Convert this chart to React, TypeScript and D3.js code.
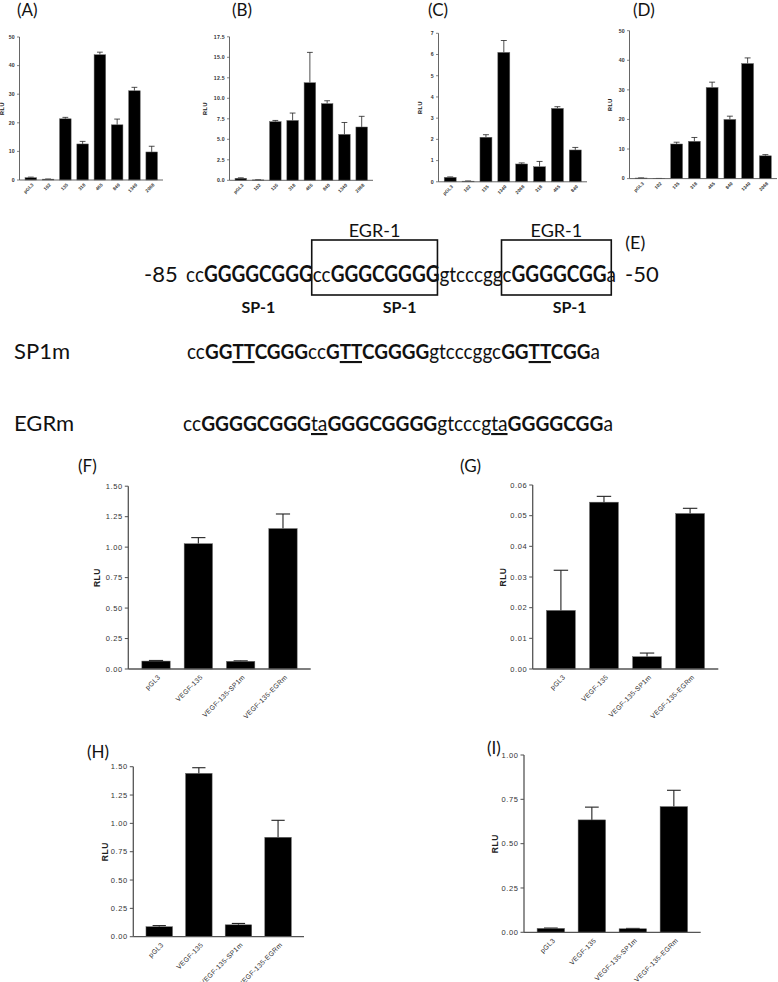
import React, { useLayoutEffect, useRef, useState } from 'react';
import * as d3 from 'd3';

// ---- data ----
const promoterCats = ['pGL3', '102', '135', '318', '465', '840', '1340', '2068'];
const promoterCatsC = ['pGL3', '102', '135', '1340', '2068', '318', '465', '840'];
const mutantCats = ['pGL3', 'VEGF-135', 'VEGF-135-SP1m', 'VEGF-135-EGRm'];

const aValues = [0.8, 0.3, 21.4, 12.6, 43.8, 19.3, 31.2, 9.8];
const aErrors = [0.2, 0.05, 0.5, 0.9, 0.9, 2.0, 1.2, 2.0];
const bValues = [0.25, 0.05, 7.15, 7.3, 11.9, 9.35, 5.6, 6.5];
const bErrors = [0.05, 0.02, 0.15, 0.9, 3.7, 0.35, 1.45, 1.3];
const cValues = [0.21, 0.03, 2.1, 6.1, 0.84, 0.71, 3.46, 1.5];
const cErrors = [0.02, 0.01, 0.12, 0.56, 0.05, 0.25, 0.08, 0.12];
const dValues = [0.2, 0.05, 11.7, 12.6, 30.8, 20.0, 38.9, 7.7];
const dErrors = [0.05, 0.01, 0.6, 1.3, 1.8, 1.1, 1.9, 0.4];

const fValues = [0.065, 1.028, 0.063, 1.152];
const fErrors = [0.005, 0.05, 0.004, 0.12];
const gValues = [0.0191, 0.0544, 0.004, 0.0507];
const gErrors = [0.0131, 0.0019, 0.0012, 0.0017];
const hValues = [0.088, 1.441, 0.105, 0.877];
const hErrors = [0.01, 0.05, 0.012, 0.15];
const iValues = [0.022, 0.634, 0.02, 0.709];
const iErrors = [0.002, 0.072, 0.002, 0.092];

const ticks50 = [0, 10, 20, 30, 40, 50];
const ticks175 = [0, 2.5, 5, 7.5, 10, 12.5, 15, 17.5];
const ticks7 = [0, 1, 2, 3, 4, 5, 6, 7];
const ticks150 = [0, 0.25, 0.5, 0.75, 1.0, 1.25, 1.5];
const ticks006 = [0, 0.01, 0.02, 0.03, 0.04, 0.05, 0.06];
const ticks100 = [0, 0.25, 0.5, 0.75, 1.0];

type Seg = { t: string; b?: boolean; u?: boolean };
const wtSeq: Seg[] = [
  { t: 'cc' }, { t: 'GGGGCGGG', b: true }, { t: 'cc' }, { t: 'GGGCGGGG', b: true },
  { t: 'gtcccggc' }, { t: 'GGGGCGG', b: true }, { t: 'a' },
];
const sp1mSeq: Seg[] = [
  { t: 'cc' }, { t: 'GG', b: true }, { t: 'TT', b: true, u: true }, { t: 'CGGG', b: true },
  { t: 'cc' }, { t: 'G', b: true }, { t: 'TT', b: true, u: true }, { t: 'CGGGG', b: true },
  { t: 'gtcccggc' }, { t: 'GG', b: true }, { t: 'TT', b: true, u: true }, { t: 'CGG', b: true }, { t: 'a' },
];
const egrmSeq: Seg[] = [
  { t: 'cc' }, { t: 'GGGGCGGG', b: true }, { t: 'ta', u: true }, { t: 'GGGCGGGG', b: true },
  { t: 'gtcccg' }, { t: 'ta', u: true }, { t: 'GGGGCGG', b: true }, { t: 'a' },
];

const chartFont = '"Liberation Sans", Arial, sans-serif';
const textFont = 'Lato, "Open Sans", sans-serif';

type Panel = {
  x0: number; x1: number; y0: number; y1: number; max: number;
  ticks: number[]; fmt: (v: number) => string; cats: string[];
  vals: number[]; errs: number[]; big: boolean; rluX: number;
};

function BarPanel({ p }: { p: Panel }) {
  const x = d3.scaleBand().domain(p.cats).range([p.x0, p.x1]).paddingInner(0.33).paddingOuter(0.32);
  const y = d3.scaleLinear().domain([0, p.max]).range([p.y0, p.y1]);
  const bw = x.bandwidth();
  const tickLen = p.big ? 3.5 : 2.5;
  const tickFont = p.big ? 7.5 : 5.2;
  const catFont = p.big ? 6.8 : 4.6;
  const axisCol = '#555';
  const sw = p.big ? 1.3 : 0.9;
  return (
    <g>
      {p.vals.map((v, i) => {
        const c = p.cats[i];
        const bx = x(c) as number;
        const cx = bx + bw / 2;
        const top = y(v + p.errs[i]);
        const cap = bw * 0.5;
        return (
          <g key={c}>
            <line x1={cx} x2={cx} y1={y(v)} y2={top} stroke="#222" strokeWidth={p.big ? 1.1 : 0.8} />
            <line x1={cx - cap / 2} x2={cx + cap / 2} y1={top} y2={top} stroke="#222" strokeWidth={p.big ? 1.1 : 0.8} />
            <rect x={bx} y={y(v)} width={bw} height={p.y0 - y(v)} fill="#000" stroke="#666" strokeWidth={0.5} />
          </g>
        );
      })}
      <line x1={p.x0} x2={p.x0} y1={p.y0} y2={p.y1} stroke={axisCol} strokeWidth={sw} />
      <line x1={p.x0} x2={p.x1} y1={p.y0} y2={p.y0} stroke={axisCol} strokeWidth={sw} />
      {p.ticks.map((t) => (
        <g key={t} transform={`translate(${p.x0}, ${y(t)})`}>
          <line x2={-tickLen} stroke={axisCol} strokeWidth={sw * 0.8} />
          <text x={-tickLen - 2} dy="0.35em" textAnchor="end" fontSize={tickFont}
            fontFamily={chartFont} fill="#333" fontWeight={p.big ? 400 : 700} letterSpacing={p.big ? 0.6 : 0.3}>
            {p.fmt(t)}
          </text>
        </g>
      ))}
      {p.cats.map((c) => (
        <text key={c} transform={`translate(${(x(c) as number) + bw / 2 + (p.big ? 3 : 2)}, ${p.y0 + (p.big ? 7 : 4)}) rotate(-45)`}
          textAnchor="end" dy="0.35em" fontSize={catFont} fontFamily={chartFont} fill="#333"
          fontWeight={p.big ? 400 : 700} letterSpacing={p.big ? 0.3 : 0.1}>
          {c}
        </text>
      ))}
      <text transform={`translate(${p.rluX}, ${(p.y0 + p.y1) / 2}) rotate(-90)`} textAnchor="middle" dy="0.35em"
        fontSize={p.big ? 8.5 : 5.5} fontWeight={700} fontFamily={chartFont} fill="#222" letterSpacing={0.5}>
        RLU
      </text>
    </g>
  );
}

function SeqText({ segs, x, y, size, len, innerRef }: { segs: Seg[]; x: number; y: number; size: number; len: number; innerRef?: any }) {
  return (
    <text ref={innerRef} x={x} y={y} fontSize={size} fontFamily={textFont} fill="#111"
      textLength={len} lengthAdjust="spacingAndGlyphs">
      {segs.map((s, i) => (
        <tspan key={i} fontWeight={s.b ? 700 : 400} style={s.u ? { textDecoration: 'underline' } : undefined}>{s.t}</tspan>
      ))}
    </text>
  );
}

type Geo = { b1l: number; b1r: number; b2l: number; b2r: number; s1: number; end: number };

function Sequences() {
  const ref = useRef<SVGTextElement>(null);
  const [geo, setGeo] = useState<null | Geo>(null);
  useLayoutEffect(() => {
    const el = ref.current;
    if (!el) return;
    const sx = (i: number) => el.getStartPositionOfChar(i).x;
    const ex = (i: number) => el.getEndPositionOfChar(i).x;
    setGeo({
      b1l: sx(10) - 1, b1r: ex(19) - 2, b2l: sx(27) - 1, b2r: (sx(35) + ex(35)) / 2,
      s1: (sx(2) + ex(9)) / 2, end: ex(35),
    });
  }, []);
  const boxTop = 240;
  const boxBot = 295;
  return (
    <g fontFamily={textFont} fill="#111">
      <text x={144} y={282} fontSize={22}>-85</text>
      <SeqText innerRef={ref} segs={wtSeq} x={186} y={282} size={22} len={430} />
      {geo && (
        <g>
          <text x={geo.end + 9} y={282} fontSize={22}>-50</text>
          <rect x={geo.b1l} y={boxTop} width={geo.b1r - geo.b1l} height={boxBot - boxTop} fill="none" stroke="#111" strokeWidth={1.6} />
          <rect x={geo.b2l} y={boxTop} width={geo.b2r - geo.b2l} height={boxBot - boxTop} fill="none" stroke="#111" strokeWidth={1.6} />
          <text x={(geo.b1l + geo.b1r) / 2} y={237} fontSize={18} textAnchor="middle">EGR-1</text>
          <text x={(geo.b2l + geo.b2r) / 2} y={237} fontSize={18} textAnchor="middle">EGR-1</text>
          <text x={geo.b2r + 14} y={249} fontSize={18}>(E)</text>
          <text x={geo.s1} y={313} fontSize={16} fontWeight={700} textAnchor="middle">SP-1</text>
          <text x={geo.b1l + 0.7 * (geo.b1r - geo.b1l)} y={313} fontSize={16} fontWeight={700} textAnchor="middle">SP-1</text>
          <text x={geo.b2l + 0.62 * (geo.b2r - geo.b2l)} y={313} fontSize={16} fontWeight={700} textAnchor="middle">SP-1</text>
        </g>
      )}
      <text x={14} y={359} fontSize={22}>SP1m</text>
      <SeqText segs={sp1mSeq} x={187} y={359} size={21} len={413} />
      <text x={14} y={431} fontSize={22}>EGRm</text>
      <SeqText segs={egrmSeq} x={183} y={431} size={21} len={430} />
    </g>
  );
}

const fmt0 = (v: number) => d3.format('d')(v);
const fmt1 = (v: number) => v.toFixed(1);
const fmt2 = (v: number) => v.toFixed(2);

const panels: Panel[] = [
  { x0: 19.5, x1: 163, y0: 180, y1: 37, max: 50, ticks: ticks50, fmt: fmt0, cats: promoterCats, vals: aValues, errs: aErrors, big: false, rluX: 2.5 },
  { x0: 229.5, x1: 373, y0: 180.3, y1: 36.8, max: 17.5, ticks: ticks175, fmt: fmt1, cats: promoterCats, vals: bValues, errs: bErrors, big: false, rluX: 205.5 },
  { x0: 438.5, x1: 587, y0: 181.8, y1: 33.3, max: 7, ticks: ticks7, fmt: fmt0, cats: promoterCatsC, vals: cValues, errs: cErrors, big: false, rluX: 420.5 },
  { x0: 629.5, x1: 777, y0: 178.6, y1: 30.7, max: 50, ticks: ticks50, fmt: fmt0, cats: promoterCats, vals: dValues, errs: dErrors, big: false, rluX: 610.5 },
  { x0: 128.3, x1: 310.7, y0: 669, y1: 486.2, max: 1.5, ticks: ticks150, fmt: fmt2, cats: mutantCats, vals: fValues, errs: fErrors, big: true, rluX: 97.5 },
  { x0: 532.7, x1: 718.3, y0: 669, y1: 485, max: 0.06, ticks: ticks006, fmt: fmt2, cats: mutantCats, vals: gValues, errs: gErrors, big: true, rluX: 503.5 },
  { x0: 133.3, x1: 304, y0: 936.7, y1: 766.7, max: 1.5, ticks: ticks150, fmt: fmt2, cats: mutantCats, vals: hValues, errs: hErrors, big: true, rluX: 105 },
  { x0: 524, x1: 700.7, y0: 932.3, y1: 755, max: 1.0, ticks: ticks100, fmt: fmt2, cats: mutantCats, vals: iValues, errs: iErrors, big: true, rluX: 495 },
];

const panelLabels = [
  { t: '(A)', x: 17, y: 16 },
  { t: '(B)', x: 232, y: 16 },
  { t: '(C)', x: 428, y: 16 },
  { t: '(D)', x: 633, y: 16 },
  { t: '(F)', x: 78, y: 472 },
  { t: '(G)', x: 460, y: 472 },
  { t: '(H)', x: 87, y: 758 },
  { t: '(I)', x: 487, y: 754 },
];

export default function App() {
  return (
    <svg width={778} height={982} style={{ position: 'absolute', left: 0, top: 0, background: '#fff' }}>
      <rect width={778} height={982} fill="#fff" />
      {panels.map((p, i) => <BarPanel key={i} p={p} />)}
      <Sequences />
      {panelLabels.map((l) => (
        <text key={l.t} x={l.x} y={l.y} fontSize={17} fontFamily={textFont} fill="#111">{l.t}</text>
      ))}
    </svg>
  );
}
